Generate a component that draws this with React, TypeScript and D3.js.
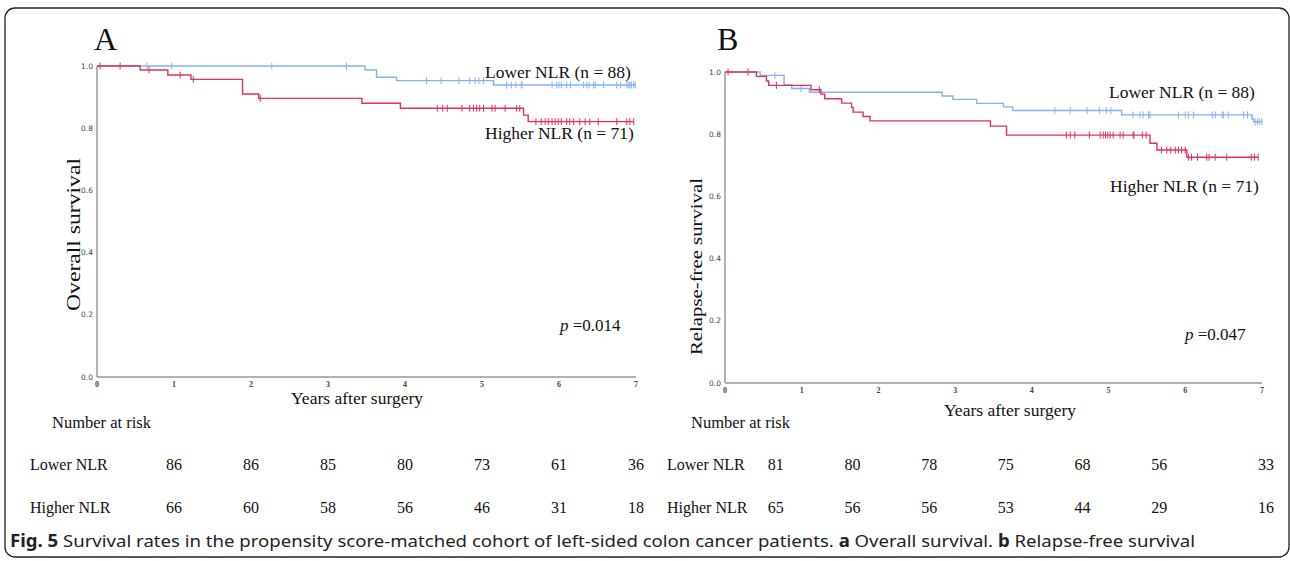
import * as d3 from 'd3'

// ---- data ----
// step events: [time (years), survival after the drop]
const osLowerEvents: [number, number][] = [
  [3.48, 0.987], [3.63, 0.964], [3.89, 0.953], [5.15, 0.939],
]
const osLowerCensor = [
  0.65, 0.97, 2.27, 3.24, 4.28, 4.47, 4.7, 4.84, 4.91, 4.96, 5.02, 5.32, 5.38, 5.44, 5.51,
  5.52, 5.91, 5.97, 6.0, 6.03, 6.1, 6.15, 6.32, 6.36, 6.39, 6.45, 6.47, 6.58, 6.75, 6.8,
  6.88, 6.9, 6.92, 6.94, 6.97, 6.99,
]
const osHigherEvents: [number, number][] = [
  [0.56, 0.987], [0.92, 0.971], [1.22, 0.957], [1.89, 0.91], [2.1, 0.896],
  [3.44, 0.88], [3.94, 0.864], [5.54, 0.842], [5.6, 0.821],
]
const osHigherCensor = [
  0.04, 0.3, 0.675, 1.08, 1.25, 2.12, 4.42, 4.49, 4.55, 4.74, 4.84, 4.89, 4.93, 4.97, 5.02,
  5.13, 5.17, 5.3, 5.45, 5.49, 5.7, 5.77, 5.82, 5.86, 5.91, 5.95, 5.99, 6.03, 6.1, 6.14,
  6.19, 6.27, 6.34, 6.4, 6.51, 6.75, 6.88, 6.92, 6.97,
]

const rfsLowerEvents: [number, number][] = [
  [0.46, 0.989], [0.77, 0.958], [0.87, 0.947], [1.1, 0.935], [2.83, 0.923], [2.97, 0.912],
  [3.28, 0.899], [3.63, 0.888], [3.75, 0.876], [5.17, 0.862], [6.87, 0.849], [6.89, 0.84],
]
const rfsLowerCensor = [
  0.65, 0.99, 4.3, 4.5, 4.72, 4.88, 4.97, 5.03, 5.32, 5.41, 5.45, 5.52, 5.54, 5.91, 6.0,
  6.04, 6.11, 6.35, 6.39, 6.48, 6.5, 6.56, 6.76, 6.81, 6.91, 6.94, 6.97, 7.0,
]
const rfsHigherEvents: [number, number][] = [
  [0.41, 0.986], [0.54, 0.971], [0.57, 0.957], [1.12, 0.943], [1.25, 0.929], [1.3, 0.914],
  [1.52, 0.9], [1.65, 0.886], [1.67, 0.871], [1.8, 0.857], [1.89, 0.843], [3.46, 0.826],
  [3.67, 0.797], [5.54, 0.771], [5.63, 0.749], [6.02, 0.726],
]
const rfsHigherCensor = [
  0.04, 0.3, 0.67, 1.23, 4.45, 4.5, 4.56, 4.75, 4.89, 4.93, 4.96, 4.99, 5.02, 5.06, 5.15,
  5.19, 5.32, 5.33, 5.44, 5.49, 5.69, 5.76, 5.81, 5.87, 5.91, 5.95, 6.0, 6.04, 6.08, 6.16,
  6.28, 6.31, 6.39, 6.54, 6.86, 6.9, 6.95,
]

const yTicks = [0, 0.2, 0.4, 0.6, 0.8, 1.0]
const xTicks = [0, 1, 2, 3, 4, 5, 6, 7]
const riskYears = [1, 2, 3, 4, 5, 6, 7]
const osRiskLower = [86, 86, 85, 80, 73, 61, 36]
const osRiskHigher = [66, 60, 58, 56, 46, 31, 18]
const rfsRiskLower = [81, 80, 78, 75, 68, 56, 33]
const rfsRiskHigher = [65, 56, 56, 53, 44, 29, 16]

const BLUE = '#84b4ef'
const RED = '#e4305c'
const SERIF = '"Liberation Serif", "Times New Roman", serif'

function survAt(events: [number, number][], t: number) {
  let s = 1
  for (const [et, es] of events) if (et <= t) s = es
  return s
}

function stepPath(events: [number, number][], end: number, x: any, y: any) {
  const pts: [number, number][] = [[0, 1]]
  let s = 1
  for (const [t, v] of events) {
    pts.push([t, s])
    pts.push([t, v])
    s = v
  }
  pts.push([end, s])
  return d3.line().x(d => x(d[0])).y(d => y(d[1]))(pts) || ''
}

function Curve({ events, censor, color, x, y }: any) {
  const end = d3.max(censor as number[]) || 7
  return (
    <g>
      <path d={stepPath(events, end, x, y)} fill="none" stroke={color} strokeWidth={1.4} />
      {censor.map((t: number, i: number) => {
        const cy = y(survAt(events, t))
        return (
          <line key={i} x1={x(t)} x2={x(t)} y1={cy - 3.5} y2={cy + 3.5} stroke={color} strokeWidth={1} />
        )
      })}
    </g>
  )
}

function Panel({ x0, x1, yTop, yBot, tickDy, lower, higher }: any) {
  const x = d3.scaleLinear().domain([0, 7]).range([x0, x1])
  const y = d3.scaleLinear().domain([0, 1]).range([yBot, yTop])
  return (
    <g>
      <line x1={x0} x2={x0} y1={yTop} y2={yBot} stroke="#999" strokeWidth={1.5} />
      <line x1={x0} x2={x1} y1={yBot} y2={yBot} stroke="#999" strokeWidth={1.5} />
      {yTicks.map(v => (
        <text key={v} x={x0 - 4} y={y(v)} dy="0.35em" textAnchor="end" fontSize={7.5}
          fontFamily="DejaVu Sans" fill="#444">{v.toFixed(1)}</text>
      ))}
      {xTicks.map(v => (
        <text key={v} x={x(v)} y={yBot + tickDy} dy="0.35em" textAnchor="middle" fontSize={8}
          fontFamily={SERIF} fontWeight="bold" fill="#444">{v}</text>
      ))}
      <Curve {...lower} color={BLUE} x={x} y={y} />
      <Curve {...higher} color={RED} x={x} y={y} />
    </g>
  )
}

export default function App() {
  const xA = d3.scaleLinear().domain([0, 7]).range([97, 636])
  const xB = d3.scaleLinear().domain([0, 7]).range([725, 1262])
  // risk table columns of panel B sit a bit left of the ticks, the last one right
  const colB = (yr: number, i: number) => (i === 6 ? xB(yr) + 4 : xB(yr) - 26)
  const colA = (yr: number) => xA(yr)

  return (
    <svg width={1290} height={561} style={{ position: 'absolute', left: 0, top: 0, background: '#fff' }}>
      <rect x={5} y={8} width={1284} height={549} rx={10} fill="#fff" stroke="#222" strokeWidth={1.3} />

      <Panel x0={97} x1={636} yTop={66} yBot={377} tickDy={7}
        lower={{ events: osLowerEvents, censor: osLowerCensor }}
        higher={{ events: osHigherEvents, censor: osHigherCensor }} />
      <Panel x0={725} x1={1262} yTop={72} yBot={383} tickDy={7}
        lower={{ events: rfsLowerEvents, censor: rfsLowerCensor }}
        higher={{ events: rfsHigherEvents, censor: rfsHigherCensor }} />

      <g fontFamily={SERIF} fill="#111">
        <text x={94} y={50} fontSize={32}>A</text>
        <text x={717} y={50} fontSize={32}>B</text>

        <text x={485} y={78} fontSize={17.5}>Lower NLR (n = 88)</text>
        <text x={485} y={139} fontSize={17.5}>Higher NLR (n = 71)</text>
        <text x={560} y={331} fontSize={17}><tspan fontStyle="italic">p</tspan> =0.014</text>

        <text x={1109} y={98} fontSize={17.5}>Lower NLR (n = 88)</text>
        <text x={1110} y={192} fontSize={17.5}>Higher NLR (n = 71)</text>
        <text x={1185} y={340} fontSize={17}><tspan fontStyle="italic">p</tspan> =0.047</text>

        <text x={357} y={404} fontSize={17.5} textAnchor="middle">Years after surgery</text>
        <text x={1010} y={416} fontSize={17.5} textAnchor="middle">Years after surgery</text>

        <text transform="translate(80,235) rotate(-90)" x={-76} fontSize={18}
          textLength={153} lengthAdjust="spacingAndGlyphs">Overall survival</text>
        <text transform="translate(702,267) rotate(-90)" x={-88} fontSize={16}
          textLength={177} lengthAdjust="spacingAndGlyphs">Relapse-free survival</text>

        <text x={52} y={428} fontSize={16.5}>Number at risk</text>
        <text x={691} y={428} fontSize={16.5}>Number at risk</text>

        <text x={30} y={470} fontSize={16}>Lower NLR</text>
        <text x={30} y={513} fontSize={16}>Higher NLR</text>
        <text x={667} y={470} fontSize={16}>Lower NLR</text>
        <text x={667} y={513} fontSize={16}>Higher NLR</text>

        {riskYears.map((yr, i) => (
          <g key={yr} fontSize={16} textAnchor="middle">
            <text x={colA(yr)} y={470}>{osRiskLower[i]}</text>
            <text x={colA(yr)} y={513}>{osRiskHigher[i]}</text>
            <text x={colB(yr, i)} y={470}>{rfsRiskLower[i]}</text>
            <text x={colB(yr, i)} y={513}>{rfsRiskHigher[i]}</text>
          </g>
        ))}
      </g>

      <text x={10} y={547} fontSize={17} fontFamily='"Noto Sans", sans-serif' fill="#222"
        textLength={1185} lengthAdjust="spacingAndGlyphs">
        <tspan fontWeight="bold">Fig. 5</tspan> Survival rates in the propensity score-matched cohort of left-sided colon cancer patients. <tspan fontWeight="bold">a</tspan> Overall survival. <tspan fontWeight="bold">b</tspan> Relapse-free survival
      </text>
    </svg>
  )
}
